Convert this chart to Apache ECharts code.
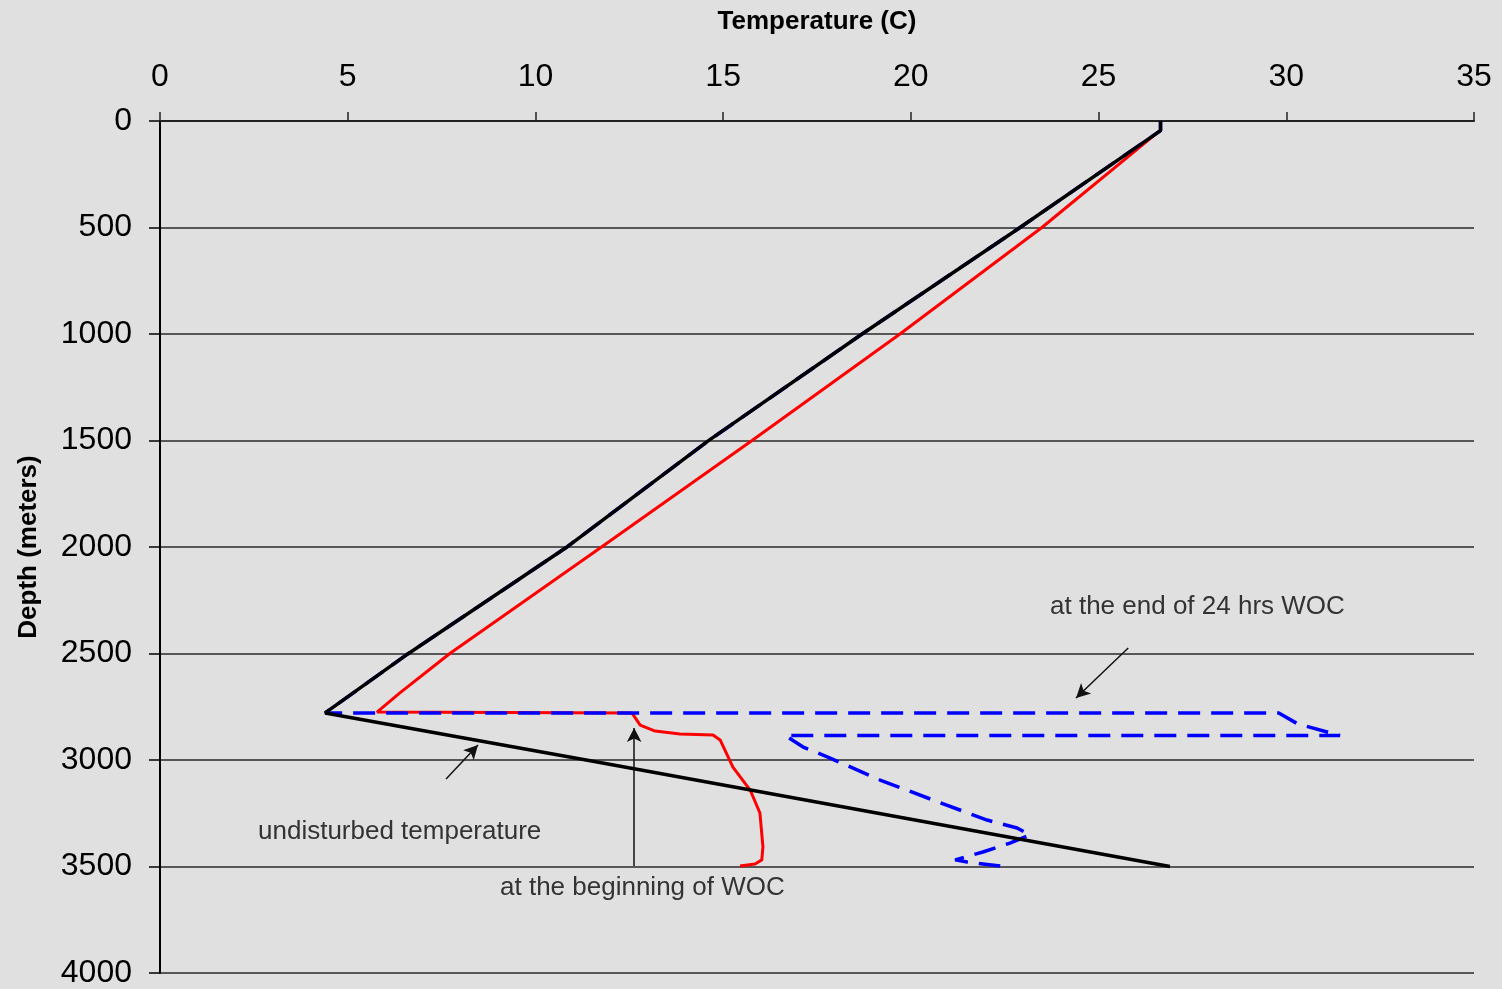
<!DOCTYPE html>
<html>
<head>
<meta charset="utf-8">
<script src="https://cdn.jsdelivr.net/npm/echarts@6/dist/echarts.min.js"></script>
<style>
html,body{margin:0;padding:0;background:#e0e0e0;}
#chart{width:1502px;height:989px;}
</style>
</head>
<body>
<div id="chart"></div>
<script>
// Temperature (C) ticks and depth (m) ticks
var tempTicks = [0, 5, 10, 15, 20, 25, 30, 35];
var depthTicks = [0, 500, 1000, 1500, 2000, 2500, 3000, 3500, 4000];

// Undisturbed temperature profile [temperature, depth]
var undisturbed = [
  [26.65, 0], [26.65, 45], [22.85, 507], [18.7, 1000],
  [14.6, 1502], [10.8, 2005], [6.6, 2502], [4.4, 2779],
  [11.35, 3000], [26.9, 3500]
];

// At the beginning of WOC [temperature, depth]
var beginningWOC = [
  [26.6, 50], [23.49, 500], [19.71, 1000], [15.77, 1500], [11.76, 2000],
  [7.72, 2500], [6.39, 2685], [5.78, 2775], [12.57, 2779],
  [12.79, 2836], [13.19, 2864], [13.85, 2878], [14.73, 2883], [14.92, 2906],
  [15.26, 3033], [15.72, 3141], [15.98, 3249], [16.06, 3408], [16.03, 3469],
  [15.85, 3488], [15.45, 3498]
];

// At the end of 24 hrs WOC [temperature, depth]
var end24WOC = [
  [26.65, 0], [26.65, 45], [22.85, 507], [18.7, 1000],
  [14.6, 1502], [10.8, 2005], [6.6, 2502], [4.4, 2779],
  [29.8, 2779], [30.3, 2830], [31.43, 2885], [16.65, 2885],
  [17.13, 2939], [17.85, 2991], [19.18, 3094], [20.59, 3188], [22.03, 3282],
  [22.83, 3319], [23.17, 3352], [22.64, 3390], [21.92, 3432], [21.18, 3469],
  [21.5, 3479], [22.38, 3498]
];

// Annotation arrows [from, to] in data units
var arrowEnd24 = [[25.79, 2474], [24.40, 2709]];
var arrowUndisturbed = [[7.62, 3089], [8.47, 2930]];
var arrowBeginning = [[12.63, 3498], [12.63, 2850]];

var FONT = '"Liberation Sans", Arial, sans-serif';

function arrowLine(a) {
  return [{coord: a[0]}, {coord: a[1]}];
}

var chart = echarts.init(document.getElementById('chart'));
chart.setOption({
  animation: false,
  backgroundColor: '#e0e0e0',
  grid: {left: 160, right: 28, top: 121, bottom: 16, containLabel: false, outerBoundsMode: 'none'},
  xAxis: {
    type: 'value', position: 'top', min: 0, max: 35, interval: 5,
    name: 'Temperature (C)', nameLocation: 'middle', nameGap: 86,
    nameTextStyle: {fontFamily: FONT, fontWeight: 'bold', fontSize: 26, color: '#000'},
    axisLine: {show: true, lineStyle: {color: '#222', width: 2}},
    axisTick: {show: true, length: 9, lineStyle: {color: '#222', width: 1.5}},
    axisLabel: {fontFamily: FONT, fontSize: 32, color: '#000', margin: 28,
      formatter: function (v) { return tempTicks.indexOf(v) >= 0 ? String(v) : ''; }},
    splitLine: {show: false}
  },
  yAxis: {
    type: 'value', inverse: true, min: 0, max: 4000, interval: 500,
    name: 'Depth (meters)', nameLocation: 'middle', nameGap: 118, nameRotate: 90,
    nameTextStyle: {fontFamily: FONT, fontWeight: 'bold', fontSize: 26, color: '#000'},
    axisLine: {show: true, lineStyle: {color: '#000', width: 2}},
    axisTick: {show: true, length: 11, lineStyle: {color: '#000', width: 1.5}},
    axisLabel: {fontFamily: FONT, fontSize: 32, color: '#000', margin: 28,
      formatter: function (v) { return depthTicks.indexOf(v) >= 0 ? String(v) : ''; }},
    splitLine: {show: true, lineStyle: {color: '#2a2a2a', width: 1.6}}
  },
  series: [
    {
      name: 'at the beginning of WOC', type: 'line', data: beginningWOC,
      showSymbol: false, symbol: 'none', z: 2,
      lineStyle: {color: '#ff0000', width: 3}
    },
    {
      name: 'at the end of 24 hrs WOC', type: 'line', data: end24WOC,
      showSymbol: false, symbol: 'none', z: 3,
      lineStyle: {color: '#0000ff', width: 3.5, type: [22, 11]}
    },
    {
      name: 'undisturbed temperature', type: 'line', data: undisturbed,
      showSymbol: false, symbol: 'none', z: 4,
      lineStyle: {color: '#000000', width: 3.5}
    },
    {
      name: 'annotations', type: 'line', data: [], z: 5,
      markLine: {
        silent: true, symbol: ['none', 'arrow'], symbolSize: [11, 14],
        label: {show: false},
        lineStyle: {color: '#111', width: 1.5, type: 'solid'},
        data: [arrowLine(arrowEnd24), arrowLine(arrowUndisturbed), arrowLine(arrowBeginning)]
      }
    }
  ],
  graphic: [
    {type: 'text', left: 1050, top: 594, style: {text: 'at the end of 24 hrs WOC', font: '26px ' + FONT, fill: '#333'}},
    {type: 'text', left: 258, top: 819, style: {text: 'undisturbed temperature', font: '26px ' + FONT, fill: '#333'}},
    {type: 'text', left: 500, top: 875, style: {text: 'at the beginning of WOC', font: '26px ' + FONT, fill: '#333'}}
  ]
});
</script>
</body>
</html>
